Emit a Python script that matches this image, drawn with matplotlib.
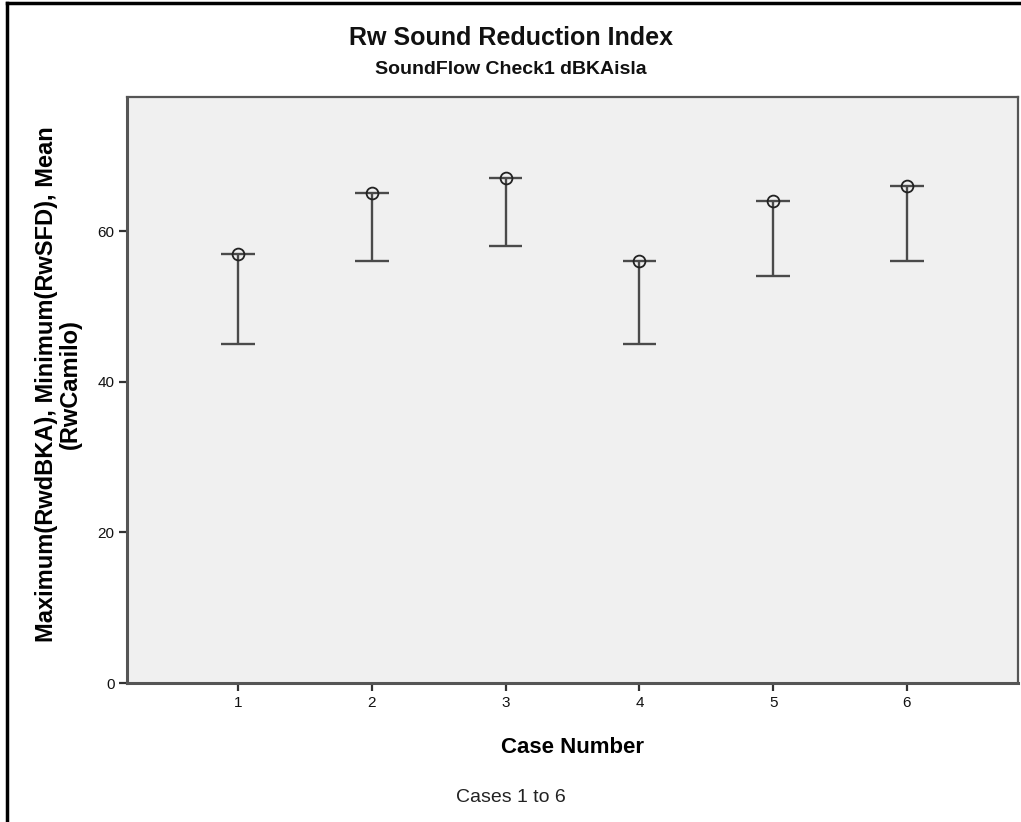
import matplotlib.pyplot as plt
from matplotlib.lines import Line2D

# values
cases = [1, 2, 3, 4, 5, 6]
max_rwdbka = [57, 65, 67, 56, 64, 66]
min_rwsfd = [45, 56, 58, 45, 54, 56]
mean_rwcamilo = [57, 65, 67, 56, 64, 66]
y_ticks = [0, 20, 40, 60]

plt.rcParams['font.family'] = ['Liberation Sans', 'DejaVu Sans']

fig = plt.figure(figsize=(10.21, 8.22), dpi=100)
ax = fig.add_axes([127 / 1021, 1 - 683 / 822, (1018 - 127) / 1021, (683 - 97) / 822])
ax.set_facecolor('#f0f0f0')

line_col = '#4a4a4a'
cap = 0.125
ax.vlines(cases, min_rwsfd, max_rwdbka, color=line_col, lw=1.7)
ax.hlines(max_rwdbka, [c - cap for c in cases], [c + cap for c in cases], color=line_col, lw=1.7)
ax.hlines(min_rwsfd, [c - cap for c in cases], [c + cap for c in cases], color=line_col, lw=1.7)
ax.plot(cases, mean_rwcamilo, 'o', ms=8.5, mfc='none', mec='#222222', mew=1.3, ls='none')

ax.set_xlim(0.17, 6.83)
ax.set_ylim(0, 77.8)
ax.set_xticks(cases)
ax.set_yticks(y_ticks)
ax.tick_params(direction='out', length=6, width=1.6, colors='#333333', labelsize=11,
               labelcolor='#111111', pad=3)

for s in ax.spines.values():
    s.set_color('#555555')
    s.set_linewidth(1.6)
ax.spines['left'].set_linewidth(2.2)
ax.spines['bottom'].set_linewidth(2.2)

ax.set_xlabel('Case Number', fontsize=16, fontweight='bold', va='center')
ax.xaxis.set_label_coords(0.5, (683 - 747) / 586)
ax.set_ylabel('Maximum(RwdBKA), Minimum(RwSFD), Mean\n(RwCamilo)', fontsize=17,
              fontweight='bold', linespacing=1.05, va='center')
ax.yaxis.set_label_coords((58 - 127) / 891, 0.51)

fig.text(0.5, 1 - 45 / 822, 'Rw Sound Reduction Index', ha='center', va='baseline',
         fontsize=18, fontweight='bold', color='#111111')
fig.text(0.5, 1 - 74 / 822, 'SoundFlow Check1 dBKAisla', ha='center', va='baseline',
         fontsize=14, fontweight='bold', color='#111111')
fig.text(0.5, 1 - 797 / 822, 'Cases 1 to 6', ha='center', va='center', fontsize=14,
         color='#222222')

# outer frame (only left and top edges visible)
fig.add_artist(Line2D([7 / 1021, 7 / 1021], [0, 1 - 3 / 822], transform=fig.transFigure,
                      color='black', lw=2.5))
fig.add_artist(Line2D([7 / 1021, 1], [1 - 3 / 822, 1 - 3 / 822], transform=fig.transFigure,
                      color='black', lw=2.5))

fig.savefig('out.png', dpi=100)
